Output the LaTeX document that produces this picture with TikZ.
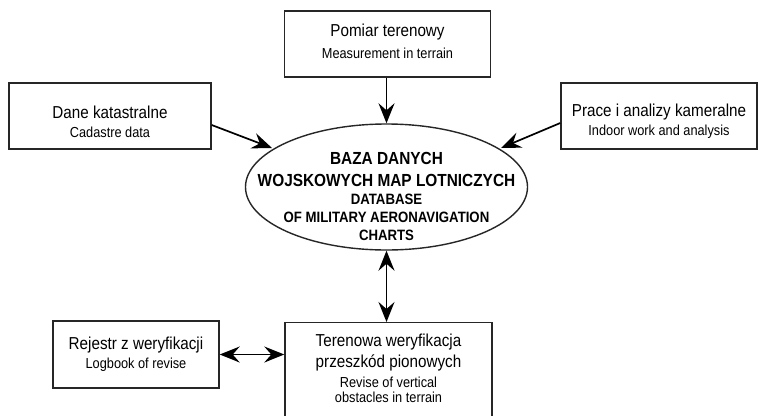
\documentclass[tikz,border=0pt]{standalone}
\usepackage{fontspec}
\setmainfont{Liberation Sans}[FakeStretch=0.88]
\usetikzlibrary{arrows.meta,shapes.geometric}
\tikzset{
  box/.style={draw=black!85, line width=1.4pt, fill=white, inner sep=0pt, align=center},
  conn/.style={line width=1.7pt, draw=black, -{Stealth[length=20pt,width=16pt,inset=7pt]}},
  dconn/.style={line width=1.7pt, draw=black, {Stealth[length=20pt,width=16pt,inset=7pt]}-{Stealth[length=20pt,width=16pt,inset=7pt]}},
}
\newcommand{\mybigtxt}[1]{{\fontsize{17.3}{20}\selectfont #1}}
\newcommand{\mysmtxt}[1]{{\fontsize{14.5}{18}\selectfont #1}}
\begin{document}
\begin{tikzpicture}[x=1pt,y=-1pt]
\clip (0,0) rectangle (759,415);
\fill[white] (0,0) rectangle (759,415);
% boxes
\node[box, minimum width=206pt, minimum height=66pt] (top) at (387.5,44) {};
\node (t1) at (387.5,32) {\mybigtxt{Pomiar terenowy}};
\node (t2) at (387.5,53) {\mysmtxt{Measurement in terrain}};

\node[box, minimum width=202pt, minimum height=66pt] (left) at (110,116) {};
\node (l1) at (110,112) {\mybigtxt{Dane katastralne}};
\node (l2) at (110,132) {\mysmtxt{Cadastre data}};

\node[box, minimum width=196pt, minimum height=66pt] (right) at (659,116) {};
\node (r1) at (659,112) {\mybigtxt{Prace i analizy kameralne}};
\node (r2) at (659,132) {\mysmtxt{Indoor work and analysis}};

\node[draw=black!85, line width=1.4pt, ellipse, minimum width=282pt, minimum height=126pt, inner sep=0pt] (db) at (386.5,187) {};
\node (d1) at (386.5,158) {\fontsize{17.5}{20}\selectfont\bfseries BAZA DANYCH};
\node (d2) at (386.5,180) {\fontsize{17.5}{20}\selectfont\bfseries WOJSKOWYCH MAP LOTNICZYCH};
\node (d3) at (386.5,199) {\fontsize{15}{18}\selectfont\bfseries DATABASE};
\node (d4) at (386.5,217) {\fontsize{15}{18}\selectfont\bfseries OF MILITARY AERONAVIGATION};
\node (d5) at (386.5,235) {\fontsize{15}{18}\selectfont\bfseries CHARTS};

\node[box, minimum width=166pt, minimum height=67pt] (reg) at (136,354.5) {};
\node (g1) at (136,345) {\mybigtxt{Rejestr z weryfikacji}};
\node (g2) at (136,365) {\mysmtxt{Logbook of revise}};

\node[box, minimum width=207pt, minimum height=110pt, anchor=north] (ter) at (388.5,322) {};
\node (e1) at (388.5,342) {\mybigtxt{Terenowa weryfikacja}};
\node (e2) at (388.5,363) {\mybigtxt{przeszkód pionowych}};
\node (e3) at (388.5,382) {\mysmtxt{Revise of vertical}};
\node (e4) at (388.5,397) {\mysmtxt{obstacles in terrain}};

% connectors
\coordinate (tl) at (272,148);
\coordinate (tr) at (501,148);
\draw[conn] (top.south -| db.north) -- (db.north);
\draw[conn] (left.east |- 0,125) -- (tl);
\draw[conn] (right.west |- 0,123) -- (tr);
\draw[dconn] (db.south) -- (db.south |- ter.north);
\draw[dconn] (reg.east) -- (reg.east -| ter.west);
\end{tikzpicture}
\end{document}
